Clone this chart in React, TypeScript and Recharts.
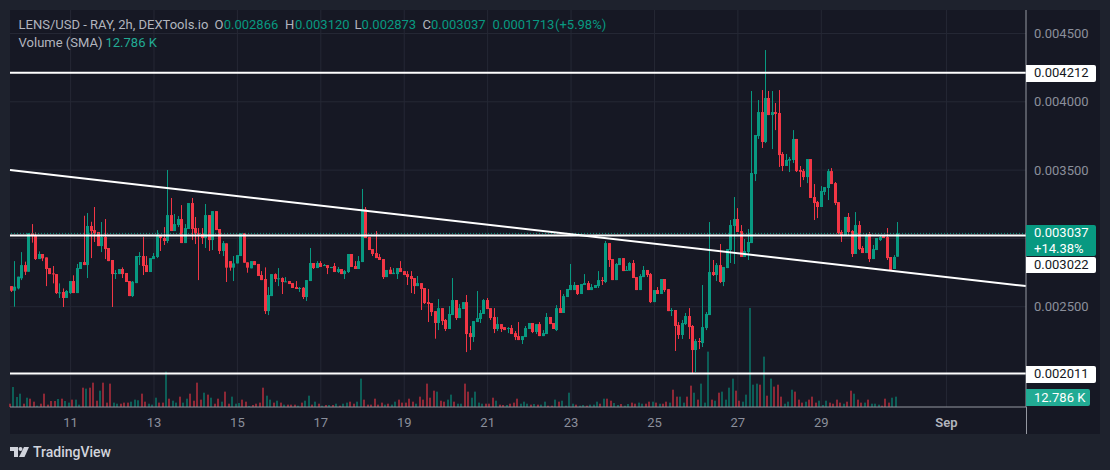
import {
  Bar,
  CartesianGrid,
  ComposedChart,
  ReferenceLine,
  XAxis,
  YAxis,
} from "recharts";

// prices in millionths of a USD, one entry per 2h candle
const opens = [
  2651, 2617, 2634, 2708, 2805, 2756, 3037, 3025, 2849, 2886,
  2861, 2783, 2744, 2739, 2600, 2608, 2564, 2600, 2688, 2600,
  2776, 2827, 2805, 3091, 3061, 3047, 2944, 3010, 2930, 2842,
  2739, 2739, 2776, 2747, 2688, 2578, 2673, 2864, 2871, 2805,
  2754, 2849, 2864, 3017, 3003, 2981, 3171, 3054, 3098, 3142,
  2966, 3069, 3259, 3076, 3037, 3032, 3003, 3171, 2988, 3200,
  3069, 2908, 2964, 2834, 2786, 2817, 2871, 3037, 2825, 2781,
  2834, 2813, 2732, 2703, 2468, 2578, 2739, 2705, 2710, 2681,
  2688, 2673, 2644, 2630, 2639, 2571, 2688, 2820, 2783, 2820,
  2798, 2805, 2783, 2798, 2754, 2776, 2739, 2754, 2886, 2798,
  2776, 2827, 3213, 3010, 2922, 2893, 2864, 2849, 2717, 2771,
  2739, 2739, 2783, 2761, 2739, 2725, 2710, 2651, 2673, 2637,
  2534, 2527, 2468, 2381, 2490, 2403, 2337, 2439, 2549, 2417,
  2483, 2534, 2307, 2278, 2388, 2410, 2447, 2549, 2490, 2425,
  2337, 2373, 2351, 2337, 2344, 2307, 2285, 2256, 2278, 2337,
  2381, 2315, 2373, 2285, 2300, 2425, 2381, 2329, 2490, 2454,
  2571, 2622, 2622, 2659, 2593, 2659, 2673, 2622, 2637, 2651,
  2695, 2681, 2966, 2849, 2695, 2805, 2856, 2764, 2764, 2820,
  2717, 2622, 2717, 2769, 2739, 2534, 2622, 2593, 2703, 2629,
  2471, 2476, 2366, 2293, 2373, 2432, 2359, 2183, 2249, 2234,
  2344, 2439, 2754, 2732, 2805, 2681, 2783, 2915, 3091, 3142,
  3054, 2864, 2900, 2966, 3471, 3749, 3925, 3706, 4028, 3903,
  3925, 3918, 3618, 3530, 3569, 3574, 3728, 3501, 3493, 3449,
  3581, 3303, 3266, 3230, 3340, 3369, 3493, 3405, 3266, 3047,
  3025, 3157, 3054, 2886, 3098, 2930, 2893, 3032, 2849, 2915,
  2988, 3017, 3010, 2864, 2776, 2866,
];
const closes = [
  2617, 2647, 2720, 2805, 2756, 3037, 3017, 2849, 2886, 2854,
  2776, 2739, 2739, 2600, 2605, 2564, 2615, 2688, 2600, 2783,
  2827, 2805, 3091, 3054, 3037, 2944, 3010, 2922, 2834, 2739,
  2747, 2776, 2739, 2681, 2578, 2683, 2871, 2871, 2798, 2754,
  2856, 2871, 3017, 3003, 2981, 3171, 3054, 3105, 3142, 2966,
  3076, 3259, 3069, 3037, 3032, 3003, 3171, 2988, 3200, 3061,
  2908, 2966, 2786, 2786, 2817, 2878, 3037, 2822, 2786, 2834,
  2805, 2725, 2695, 2468, 2586, 2739, 2703, 2708, 2681, 2686,
  2666, 2637, 2630, 2637, 2571, 2695, 2820, 2783, 2820, 2791,
  2805, 2783, 2791, 2754, 2776, 2739, 2761, 2886, 2791, 2776,
  2834, 3215, 3003, 2915, 2886, 2856, 2842, 2717, 2769, 2739,
  2749, 2783, 2754, 2732, 2717, 2703, 2651, 2673, 2630, 2527,
  2520, 2461, 2381, 2490, 2395, 2337, 2447, 2549, 2417, 2490,
  2534, 2300, 2278, 2395, 2417, 2454, 2549, 2483, 2417, 2337,
  2373, 2337, 2329, 2344, 2300, 2278, 2256, 2285, 2344, 2381,
  2315, 2373, 2285, 2307, 2425, 2373, 2337, 2490, 2454, 2578,
  2630, 2659, 2659, 2593, 2666, 2673, 2622, 2644, 2659, 2695,
  2688, 2966, 2842, 2695, 2813, 2856, 2761, 2769, 2820, 2710,
  2622, 2725, 2769, 2732, 2534, 2622, 2593, 2703, 2622, 2468,
  2476, 2359, 2293, 2381, 2432, 2351, 2183, 2249, 2244, 2351,
  2447, 2754, 2732, 2805, 2681, 2791, 2922, 3098, 3142, 3047,
  2864, 2908, 2974, 3479, 3757, 3925, 3706, 4028, 3903, 3925,
  3911, 3610, 3530, 3574, 3581, 3728, 3493, 3488, 3449, 3581,
  3296, 3259, 3230, 3347, 3376, 3493, 3398, 3259, 3039, 3025,
  3157, 3047, 2886, 3098, 2922, 2893, 3025, 2849, 2922, 3003,
  3010, 3003, 2856, 2769, 2864, 3037,
];
const highs = [
  2651, 2834, 2720, 2900, 2830, 3037, 3105, 3044, 2905, 2886,
  2861, 2783, 2798, 2739, 2671, 2634, 2622, 2688, 2730, 2813,
  2827, 3166, 3186, 3122, 3230, 3047, 3120, 3142, 2930, 2842,
  2769, 2776, 2788, 2747, 2688, 2688, 2871, 2900, 3010, 2871,
  2856, 2893, 3061, 3017, 3083, 3501, 3296, 3179, 3164, 3244,
  3105, 3259, 3296, 3157, 3076, 3076, 3252, 3171, 3200, 3200,
  3069, 2981, 2964, 2834, 2871, 2878, 3037, 3037, 2825, 2834,
  2834, 2813, 2761, 2788, 2644, 2739, 2744, 2783, 2715, 2717,
  2688, 2673, 2688, 2644, 2644, 2695, 2930, 2820, 2834, 2834,
  2813, 2805, 2791, 2820, 2791, 2776, 2769, 2886, 2886, 2834,
  2871, 3362, 3230, 3010, 2922, 3054, 2886, 2849, 2769, 2791,
  2783, 2783, 2834, 2761, 2761, 2761, 2710, 2725, 2673, 2637,
  2630, 2527, 2468, 2556, 2490, 2410, 2505, 2710, 2549, 2520,
  2534, 2586, 2359, 2395, 2615, 2476, 2556, 2564, 2490, 2490,
  2425, 2373, 2351, 2351, 2366, 2322, 2388, 2285, 2359, 2381,
  2381, 2373, 2388, 2329, 2454, 2425, 2381, 2512, 2622, 2593,
  2630, 2813, 2681, 2659, 2666, 2739, 2688, 2666, 2659, 2761,
  2717, 2981, 2966, 2849, 2820, 2856, 2856, 2798, 2827, 2842,
  2717, 2739, 2798, 2769, 2747, 2622, 2644, 2703, 2703, 2629,
  2490, 2476, 2388, 2403, 2454, 2490, 2366, 2264, 2271, 2659,
  2461, 3120, 2842, 2820, 2959, 2791, 2922, 3135, 3303, 3222,
  3098, 2996, 3069, 4079, 3757, 4013, 4086, 4379, 4079, 4079,
  3991, 4086, 3632, 3618, 3596, 3793, 3728, 3530, 3508, 3581,
  3581, 3398, 3274, 3383, 3376, 3508, 3515, 3413, 3266, 3061,
  3157, 3186, 3061, 3193, 3127, 2944, 3039, 3047, 2952, 3003,
  3025, 3017, 3076, 2864, 2878, 3120,
];
const lows = [
  2608, 2500, 2627, 2695, 2732, 2756, 2969, 2842, 2849, 2834,
  2651, 2739, 2671, 2593, 2564, 2498, 2564, 2593, 2600, 2600,
  2776, 2805, 2710, 2856, 2974, 2944, 2900, 2849, 2834, 2498,
  2703, 2739, 2710, 2681, 2578, 2571, 2673, 2805, 2732, 2754,
  2754, 2849, 2856, 2908, 2952, 2966, 3054, 3054, 3083, 2966,
  2966, 3069, 2988, 2959, 2695, 2959, 2930, 2908, 2915, 3061,
  2886, 2871, 2681, 2764, 2688, 2817, 2871, 2822, 2749, 2781,
  2805, 2725, 2695, 2447, 2439, 2578, 2681, 2651, 2593, 2681,
  2666, 2637, 2630, 2608, 2556, 2542, 2688, 2776, 2783, 2791,
  2798, 2739, 2783, 2754, 2747, 2739, 2703, 2747, 2791, 2776,
  2776, 2827, 3003, 2915, 2871, 2856, 2842, 2703, 2717, 2739,
  2739, 2703, 2754, 2732, 2659, 2600, 2593, 2651, 2476, 2520,
  2388, 2432, 2266, 2329, 2366, 2322, 2337, 2439, 2403, 2417,
  2483, 2168, 2183, 2242, 2388, 2381, 2447, 2483, 2403, 2307,
  2322, 2315, 2329, 2307, 2300, 2256, 2256, 2227, 2278, 2337,
  2307, 2300, 2285, 2285, 2300, 2373, 2337, 2322, 2454, 2454,
  2571, 2622, 2622, 2586, 2593, 2659, 2622, 2622, 2637, 2637,
  2659, 2673, 2791, 2695, 2695, 2805, 2761, 2764, 2764, 2710,
  2622, 2622, 2717, 2717, 2527, 2534, 2593, 2593, 2608, 2468,
  2432, 2176, 2264, 2264, 2366, 2264, 2012, 2022, 2190, 2205,
  2329, 2439, 2725, 2688, 2673, 2651, 2783, 2820, 2813, 3047,
  2864, 2864, 2842, 2966, 3420, 3728, 3662, 3698, 3903, 3654,
  3793, 3523, 3493, 3530, 3486, 3552, 3486, 3376, 3427, 3405,
  3296, 3135, 3149, 3230, 3318, 3281, 3398, 3244, 3032, 2974,
  3025, 3025, 2864, 2886, 2915, 2893, 2893, 2827, 2849, 2915,
  2981, 3003, 2842, 2769, 2776, 2866,
];
// volume in thousands
const volumes = [
  4.1, 24.7, 12.4, 16.5, 4.1, 11.5, 10.3, 6.6, 1.6, 4.1,
  16.5, 2.9, 7.4, 7.4, 9.9, 10.3, 7.4, 5.4, 9.1, 9.1,
  2.9, 23.9, 22.7, 23.9, 30.1, 7.8, 20.2, 30.1, 5.4, 28.9,
  5.4, 4.1, 4.1, 5.4, 5.4, 6.6, 9.1, 8.3, 16.5, 6.6,
  4.1, 2.9, 11.5, 5.4, 5.4, 43.7, 10.3, 7.8, 5.4, 12.8,
  5.4, 10.3, 16.5, 7.8, 30.1, 9.1, 17.7, 15.3, 11.5, 4.1,
  10.3, 6.6, 19, 4.1, 12.8, 4.1, 4.9, 9.1, 6.6, 1.2,
  2.5, 4.1, 5.4, 23.9, 14, 9.1, 5.4, 7.8, 5.4, 2.9,
  2.9, 2.9, 2.9, 1.6, 5.4, 7.8, 14, 2.9, 6.6, 4.1,
  1.6, 2.5, 2.5, 2.5, 4.1, 1.6, 4.1, 5.4, 6.6, 4.1,
  6.6, 35.1, 9.1, 2.9, 2.9, 10.3, 2.9, 5.4, 2.9, 4.1,
  2.9, 6.6, 9.1, 5.4, 5.4, 10.3, 6.6, 4.1, 12.8, 9.1,
  28.9, 11.5, 20.2, 19, 7.8, 6.6, 9.1, 15.3, 6.6, 4.1,
  4.1, 28.9, 19, 11.5, 19, 5.4, 4.1, 4.1, 4.1, 11.5,
  7.8, 2.9, 2.5, 2.5, 4.1, 5.4, 10.3, 4.1, 6.6, 4.1,
  2.9, 3.7, 2.9, 2.9, 6.6, 1.6, 1.6, 9.1, 6.6, 7.8,
  1.6, 17.7, 4.1, 2.9, 1.6, 2.5, 1.6, 2.9, 2.9, 6.6,
  4.1, 10.3, 10.3, 7.8, 4.9, 2.5, 3.7, 1.6, 3.7, 5.4,
  4.1, 5.4, 4.1, 4.1, 6.6, 6.6, 5.4, 4.1, 4.1, 6.6,
  5.4, 21.4, 12.8, 12.8, 5.4, 12.8, 26.4, 17.7, 9.1, 28.9,
  5.4, 68.5, 9.1, 7.8, 17.7, 19, 9.1, 23.9, 35.1, 20.2,
  7.8, 6.6, 15.3, 122.5, 27.6, 28.9, 27.6, 62.3, 14, 35.1,
  25.2, 27.6, 12.8, 4.1, 6.6, 21.4, 19, 9.1, 5.4, 6.6,
  9.1, 12.8, 5.4, 7.8, 2.5, 7.8, 5.4, 4.1, 9.1, 5.4,
  4.1, 6.6, 20.2, 16.5, 9.1, 5.4, 5.4, 9.1, 4.1, 4.1,
  2.9, 1.6, 10.3, 5.4, 11.5, 12.786,
];

// candle index of each date tick
const dateTicks = [17, 41, 65, 89, 113, 137, 161, 185, 209, 233, 269];
const dateLabels = ["11", "13", "15", "17", "19", "21", "23", "25", "27", "29", "Sep"];
const priceTicks = [2500, 3500, 4000, 4500];
const priceGrid = [2000, 2500, 3000, 3500, 4000, 4500];
const levels = [4212, 3022, 2011];
const lastPrice = 3037;
const trendStart = 3500;
const trendEnd = 2651;

const UP = "#089981";
const DOWN = "#f23645";
const PANEL = "#161824";
const OUTER = "#1e222d";
const GRID = "#252835";
const AXIS_TEXT = "#8b8f9b";
const FONT = "Roboto, 'Noto Sans', sans-serif";

const xMin = -0.43;
const xMax = 291.9;

const chartData = opens.map((open, i) => ({
  i,
  open,
  close: closes[i],
  range: [lows[i], highs[i]],
  volume: volumes[i],
}));

// the two Bars sit side by side in one band, so the tick position is where they touch:
// the left edge of the candle slot and the right edge of the volume slot
function Candle(props: any) {
  const { x, y, height, payload } = props;
  const [low, high] = payload.range;
  const pxPerUnit = height / (high - low || 1);
  const top = y + (high - Math.max(payload.open, payload.close)) * pxPerUnit;
  const bottom = y + (high - Math.min(payload.open, payload.close)) * pxPerUnit;
  const color = payload.close >= payload.open ? UP : DOWN;
  return (
    <g fill={color}>
      <rect x={Math.round(x - 0.5)} y={y} width={1} height={height} />
      <rect x={Math.round(x - 1.5)} y={top} width={3} height={Math.max(bottom - top, 1)} />
    </g>
  );
}

function VolumeBar(props: any) {
  const { x, y, width, height, payload } = props;
  const color = payload.close >= payload.open ? UP : DOWN;
  return (
    <rect
      x={Math.round(x + width - 2.7)}
      y={y}
      width={2}
      height={height}
      fill={color}
      fillOpacity={0.55}
    />
  );
}

function DateTick(props: any) {
  const { x, y, payload } = props;
  const label = dateLabels[dateTicks.indexOf(payload.value)];
  const isMonth = label === "Sep";
  return (
    <text
      x={x}
      y={y + 4}
      textAnchor="middle"
      fontSize={13}
      fontFamily={FONT}
      fontWeight={isMonth ? 600 : 400}
      fill={isMonth ? "#b2b5be" : AXIS_TEXT}
    >
      {label}
    </text>
  );
}

const headerRow = [
  { left: 18.6, text: "LENS/USD - RAY, 2h, DEXTools.io", color: "#b2b5be" },
  { left: 214.6, text: "O", color: "#b2b5be" },
  { left: 223.7, text: "0.002866", color: UP },
  { left: 285, text: "H", color: "#b2b5be" },
  { left: 295, text: "0.003120", color: UP },
  { left: 354.5, text: "L", color: "#b2b5be" },
  { left: 361.6, text: "0.002873", color: UP },
  { left: 422.5, text: "C", color: "#b2b5be" },
  { left: 431, text: "0.003037", color: UP },
  { left: 492.5, text: "0.0001713", color: UP },
  { left: 555, text: "(+5.98%)", color: UP },
];

const whiteBoxes = [
  { top: 65, text: "0.004212" },
  { top: 256.5, text: "0.003022" },
  { top: 366, text: "0.002011" },
];

export default function App() {
  return (
    <div
      style={{
        position: "fixed",
        left: 0,
        top: 0,
        width: 1110,
        height: 470,
        background: OUTER,
        overflow: "hidden",
        fontFamily: FONT,
      }}
    >
      <div style={{ position: "absolute", left: 10, top: 10, width: 1090, height: 424, background: PANEL }} />
      <div style={{ position: "absolute", left: 0, top: 0 }}>
        <ComposedChart
          width={1110}
          height={470}
          data={chartData}
          margin={{ top: 10, right: 10, bottom: 36, left: 10 }}
          barGap={0}
        >
          <CartesianGrid
            yAxisId="price"
            stroke={GRID}
            horizontalValues={priceGrid}
            verticalValues={dateTicks}
          />
          <XAxis
            dataKey="i"
            type="number"
            domain={[xMin, xMax]}
            ticks={dateTicks}
            height={27}
            tick={<DateTick />}
            tickLine={false}
            tickMargin={10}
            axisLine={{ stroke: "#9598a1" }}
            interval={0}
          />
          <YAxis
            yAxisId="price"
            orientation="right"
            width={74}
            domain={[1766, 4672]}
            ticks={priceTicks}
            tickFormatter={(v: number) => (v / 1e6).toFixed(6)}
            tick={{ fill: AXIS_TEXT, fontSize: 13, fontFamily: FONT }}
            tickLine={false}
            tickMargin={2}
            axisLine={{ stroke: "#9598a1" }}
            interval={0}
          />
          <YAxis yAxisId="volume" hide domain={[0, 491]} />
          <Bar
            yAxisId="volume"
            dataKey="volume"
            barSize={2}
            shape={<VolumeBar />}
            isAnimationActive={false}
          />
          <Bar
            yAxisId="price"
            dataKey="range"
            barSize={3}
            shape={<Candle />}
            isAnimationActive={false}
          />
          <ReferenceLine yAxisId="price" y={lastPrice} stroke={UP} strokeDasharray="1 2" />
          {levels.map((level) => (
            <ReferenceLine key={level} yAxisId="price" y={level} stroke="#ffffff" strokeWidth={2} />
          ))}
          <ReferenceLine
            yAxisId="price"
            stroke="#ffffff"
            strokeWidth={2}
            segment={[
              { x: xMin, y: trendStart },
              { x: xMax, y: trendEnd },
            ]}
          />
        </ComposedChart>
      </div>

      {/* axis divider carries on through the time scale */}
      <div style={{ position: "absolute", left: 1026, top: 407, width: 1, height: 27, background: "#9598a1" }} />

      {headerRow.map((h) => (
        <span
          key={h.left}
          style={{ position: "absolute", left: h.left, top: 17, fontSize: 13, lineHeight: "16px", color: h.color, whiteSpace: "nowrap" }}
        >
          {h.text}
        </span>
      ))}
      <span style={{ position: "absolute", left: 18.6, top: 35, fontSize: 13, lineHeight: "16px", color: "#b2b5be" }}>
        Volume (SMA)
      </span>
      <span style={{ position: "absolute", left: 105.5, top: 35, fontSize: 13, lineHeight: "16px", color: "#22ab94" }}>
        12.786 K
      </span>

      {whiteBoxes.map((b) => (
        <div
          key={b.text}
          style={{
            position: "absolute",
            left: 1026,
            top: b.top,
            width: 62,
            height: 16.5,
            paddingLeft: 8,
            background: "#ffffff",
            color: "#131722",
            fontSize: 13,
            lineHeight: "16.5px",
            borderRadius: "0 2px 2px 0",
          }}
        >
          {b.text}
        </div>
      ))}
      <div
        style={{
          position: "absolute",
          left: 1026,
          top: 225,
          width: 62,
          height: 31,
          paddingLeft: 8,
          background: UP,
          color: "#ffffff",
          fontSize: 13,
          lineHeight: "15.5px",
          borderRadius: "0 2px 2px 0",
        }}
      >
        <div>0.003037</div>
        <div>+14.38%</div>
      </div>
      <div
        style={{
          position: "absolute",
          left: 1026,
          top: 389,
          width: 56,
          height: 17,
          paddingLeft: 8,
          background: "#22ab94",
          color: "#ffffff",
          fontSize: 13,
          lineHeight: "17px",
          borderRadius: "0 2px 2px 0",
        }}
      >
        12.786 K
      </div>

      <svg style={{ position: "absolute", left: 10, top: 447 }} width={20} height={11} viewBox="0 0 20 11">
        <path d="M0 0h8v10H4V4H0z" fill="#d1d4dc" />
        <circle cx={10.5} cy={2} r={2} fill="#d1d4dc" />
        <path d="M14 0h5l-4.5 10H9z" fill="#d1d4dc" />
      </svg>
      <span style={{ position: "absolute", left: 33, top: 444, fontSize: 14, lineHeight: "17px", fontWeight: 500, color: "#d1d4dc" }}>
        TradingView
      </span>
    </div>
  );
}
